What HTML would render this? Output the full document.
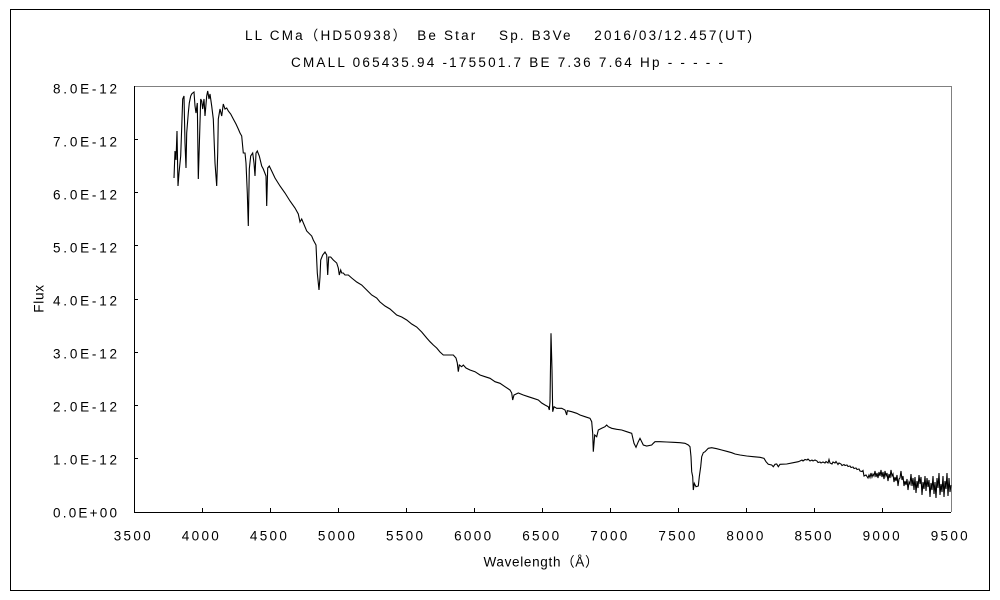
<!DOCTYPE html>
<html>
<head>
<meta charset="utf-8">
<style>
html,body{margin:0;padding:0;background:#fff;}
svg{display:block;}
text{font-family:"Liberation Sans","Noto Sans CJK JP",sans-serif;font-size:13.5px;fill:#000;}
</style>
</head>
<body>
<svg width="1000" height="600" viewBox="0 0 1000 600" xmlns="http://www.w3.org/2000/svg">
<rect x="0" y="0" width="1000" height="600" fill="#fff"/>
<rect x="10.5" y="9.5" width="979" height="581" fill="none" stroke="#000" stroke-width="1"/>

<text x="245" y="40" textLength="507" lengthAdjust="spacing">LL CMa（HD50938）　Be Star　 Sp. B3Ve　 2016/03/12.457(UT)</text>
<text x="291" y="67" textLength="432" lengthAdjust="spacing">CMALL 065435.94 -175501.7 BE 7.36 7.64 Hp - - - - -</text>

<!-- plot frame -->
<line x1="134" y1="86.5" x2="951.5" y2="86.5" stroke="#808080" stroke-width="1"/>
<line x1="951.5" y1="86" x2="951.5" y2="512" stroke="#808080" stroke-width="1"/>
<line x1="134.5" y1="86" x2="134.5" y2="513" stroke="#000" stroke-width="1"/>
<line x1="134" y1="512.5" x2="951" y2="512.5" stroke="#000" stroke-width="1"/>

<!-- y ticks -->
<g stroke="#000" stroke-width="1">
<line x1="134" y1="458.5" x2="138" y2="458.5"/>
<line x1="134" y1="405.5" x2="138" y2="405.5"/>
<line x1="134" y1="352.5" x2="138" y2="352.5"/>
<line x1="134" y1="299.5" x2="138" y2="299.5"/>
<line x1="134" y1="245.5" x2="138" y2="245.5"/>
<line x1="134" y1="192.5" x2="138" y2="192.5"/>
<line x1="134" y1="139.5" x2="138" y2="139.5"/>
<!-- x ticks -->
<line x1="202.5" y1="508" x2="202.5" y2="512"/>
<line x1="270.5" y1="508" x2="270.5" y2="512"/>
<line x1="338.5" y1="508" x2="338.5" y2="512"/>
<line x1="406.5" y1="508" x2="406.5" y2="512"/>
<line x1="474.5" y1="508" x2="474.5" y2="512"/>
<line x1="542.5" y1="508" x2="542.5" y2="512"/>
<line x1="610.5" y1="508" x2="610.5" y2="512"/>
<line x1="678.5" y1="508" x2="678.5" y2="512"/>
<line x1="746.5" y1="508" x2="746.5" y2="512"/>
<line x1="814.5" y1="508" x2="814.5" y2="512"/>
<line x1="882.5" y1="508" x2="882.5" y2="512"/>
</g>

<!-- y labels -->
<text x="53" y="93.3" textLength="64" lengthAdjust="spacing">8.0E-12</text>
<text x="53" y="146.3" textLength="64" lengthAdjust="spacing">7.0E-12</text>
<text x="53" y="199.4" textLength="64" lengthAdjust="spacing">6.0E-12</text>
<text x="53" y="252.4" textLength="64" lengthAdjust="spacing">5.0E-12</text>
<text x="53" y="305.5" textLength="64" lengthAdjust="spacing">4.0E-12</text>
<text x="53" y="358.5" textLength="64" lengthAdjust="spacing">3.0E-12</text>
<text x="53" y="411.6" textLength="64" lengthAdjust="spacing">2.0E-12</text>
<text x="53" y="464.6" textLength="64" lengthAdjust="spacing">1.0E-12</text>
<text x="53" y="517.5" textLength="64" lengthAdjust="spacing">0.0E+00</text>

<!-- x labels -->
<text x="113.7" y="540.5" textLength="37" lengthAdjust="spacing">3500</text>
<text x="181.8" y="540.5" textLength="37" lengthAdjust="spacing">4000</text>
<text x="249.9" y="540.5" textLength="37" lengthAdjust="spacing">4500</text>
<text x="317.9" y="540.5" textLength="37" lengthAdjust="spacing">5000</text>
<text x="386.0" y="540.5" textLength="37" lengthAdjust="spacing">5500</text>
<text x="454.1" y="540.5" textLength="37" lengthAdjust="spacing">6000</text>
<text x="522.2" y="540.5" textLength="37" lengthAdjust="spacing">6500</text>
<text x="590.3" y="540.5" textLength="37" lengthAdjust="spacing">7000</text>
<text x="658.4" y="540.5" textLength="37" lengthAdjust="spacing">7500</text>
<text x="726.4" y="540.5" textLength="37" lengthAdjust="spacing">8000</text>
<text x="794.5" y="540.5" textLength="37" lengthAdjust="spacing">8500</text>
<text x="862.6" y="540.5" textLength="37" lengthAdjust="spacing">9000</text>
<text x="930.7" y="540.5" textLength="37" lengthAdjust="spacing">9500</text>

<text x="483.5" y="566.5" textLength="115" lengthAdjust="spacing">Wavelength（Å）</text>
<text transform="translate(43.5,312.7) rotate(-90)" x="0" y="0" textLength="27.7" lengthAdjust="spacing">Flux</text>

<!-- spectrum -->
<polyline fill="none" stroke="#000" stroke-width="1.1" stroke-linejoin="miter" points="
174,178 175,151 176,160 177,131 178,186 179,173 180.7,156 182.7,99 184,96 185,143 186,168 186.7,133 188.3,113 189.3,103 190.7,96 191.7,94 192.7,93 194,92 195,106 196,113 197.3,103 198.3,179 199.3,146 200.7,99 201.7,101 202.7,109 204,99 205,116 206.7,96 207.7,91 209,99 210,94 211.7,106 213.3,119 215,163 216.7,186 217.7,153 218.3,119 220,109 221.7,116 223.3,104 225,109 226.7,108 228.3,111 230.7,114 233.3,119 236,124 238.3,129 240,133 241.7,136 243.3,153 245,153 246,163 247.3,193 248.3,226 249.3,169 250.7,156 252.7,153 254,163 255,176 256,153 257.3,151 259.3,156 261.7,166 263.3,169 266,176 266.7,206 267.7,168 269.3,166 271.7,171 275,178 280,186 285,193 290,201 295,208 298.3,214 300,222 301.7,219 306.7,231 311.7,236 313.3,240 316,245 317.3,273 319,290 320,277 320.7,260 322.7,255 325,252 326.7,255 327.7,275 328.7,257 330.7,257 333.3,260 336.7,263 338.3,268 339.3,275 340.7,270 341.7,273 343.3,273 345,275 348.3,275 351.7,278 356.7,282 361.7,285 366.7,290 371.7,295 376.7,298 380,302 385,306 390,309 396.7,315 401.7,317 406.7,320 411.7,324 416.7,327 421.7,332 426.7,338 430,341.7 433.3,345 436.7,348 440,352 443.3,355 448.3,355 453.3,355 456,358 457.3,363 458.3,371.7 459.3,365 461.7,366.7 463.3,365 466,368 470,370 475,371.7 480,375 485,376.7 490,378.3 495,381.7 500,383.3 505,386.7 510,390 511.7,393 512.7,400 514,395 518.3,393 523.3,395 528.3,396.7 533.3,398.3 538.3,400 541.7,403 545,405 548.3,406.7 549.3,410 550,401.7 551,333.3 552,370 552.7,411.7 554,406.7 556.7,408.3 561.7,408.3 565,410 566.7,415 567.3,410.7 571.7,411.7 576.7,413.3 580,415 585,416.7 590,418.3 591.7,421.7 592.7,433.3 593.3,451.7 594.7,435 596.7,436.7 598.3,430 601.7,428.3 605,426.7 606.7,425 608.3,426.7 611.7,428.3 616.7,429.3 621.7,430 626.7,431.7 631.7,433.3 634,443.3 636,447.3 638.3,441.7 640,438.3 641.7,441.7 643.3,445 646.7,446 651.7,445 653.3,443.3 655,441.7 660,441.7 666.7,442 673.3,442.3 680,442.7 685,443.3 688.3,445 690,446.7 691,456.7 691.7,471.7 692.7,476.7 693.3,490 694.3,483.3 696,486.7 698.3,486 699.3,476.7 700.7,466.7 701.7,456.7 703.3,452.7 705,451.7 708.3,448.3 711.7,447.7 716.7,448.7 721.7,450 726.7,451.3 731.7,452.7 735,454 740,455 746.7,456 753.3,456.7 760,457.3 764,458.3 766,461.7 768.3,464.3 771.7,465 773.3,466.7 775,464.3 776.7,464 778.3,466.7 780,464.3 786.7,464 793.3,462.7 798.3,461.7
800,461 802,460 803,461 805,459.5 807,460 808,459 810,461 812,460 813,461 815,460 817,461 818,462.5 820,462 821,463 823,462 825,463 826,461.5 828,463 829,459.5 830,463 832,464 833,462 835,463 836,461.5 838,464.5 839,463 841,464 842,465.5 844,464.5 845,465.5 847,465 848,466.5 850,466 851,467.5 853,467 854,468.5 856,468 857,469.5 859,469 860,471 862,471.5 863,470.5 864,476 866,475 867,476.5 868,478 869,475 870,477.5 871,473 872,477 873,474 874,476 875,471 876,477 877,473 878,478 879,472 880,476 881,470 882,477 883,472 884,479 885,471 886,476 887,473 888,481 889,474 890,478 891,470 892,476 893,474 894,482 895,477 896,481 897,475 898,486 899,479 900,478 901,471 902,480 903,476 904,486 905,481 906,485 907,479 908,490 909,482 910,484 911,474 912,486 913,478 914,490 915,477 916,493 917,481 918,488 919,475 920,484 921,477 922,495 923,482 924,489 925,476 926,491 927,478 928,487 929,480 930,497 931,483 932,490 933,476 934,494 935,482 936,498 937,478 938,488 939,473 940,495 941,484 942,492 943,476 944,497 945,481 946,489 947,473 948,496 949,478 950,492 951,485"/>
</svg>
</body>
</html>
